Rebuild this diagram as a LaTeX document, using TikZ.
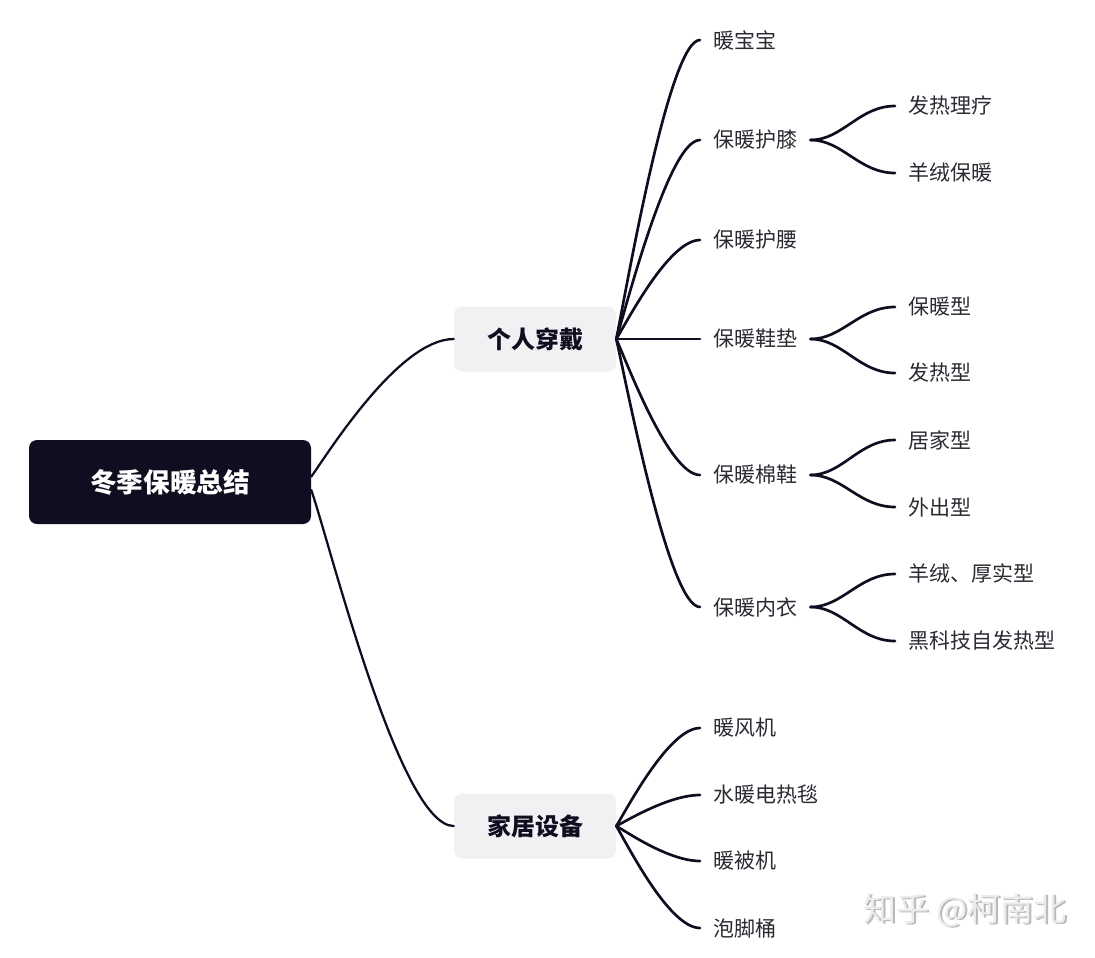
\documentclass[tikz,border=0pt]{standalone}
\usepackage{fontspec}
\setmainfont{Noto Sans CJK SC}
\usetikzlibrary{positioning}
\definecolor{ink}{RGB}{16,13,32}
\definecolor{boxgray}{RGB}{241,241,243}
\definecolor{leafink}{RGB}{42,42,50}
\tikzset{branch/.style={line width=2pt,ink}}

\begin{document}
\begin{tikzpicture}[x=0.75pt,y=-0.75pt,line join=round,line cap=round,
		rootbox/.style={fill=ink,rounded corners=6pt,minimum width=211.5pt,minimum height=63pt,
			text=white,font=\bfseries\fontsize{20}{24}\selectfont},
		topicbox/.style={fill=boxgray,rounded corners=6pt,minimum width=121.5pt,minimum height=48.75pt,
			text=ink,font=\bfseries\fontsize{18}{22}\selectfont},
		leaf/.style={anchor=west,inner xsep=9.75pt,text=leafink,font=\fontsize{15.75}{19}\selectfont}]
		\useasboundingbox (0,0) rectangle (1095,957);
		\node[rootbox]  (root) at (170,482) {冬季保暖总结};
		\node[topicbox] (wear) at (535,339) {个人穿戴};
		\node[topicbox] (home) at (535,826) {家居设备};
		\draw[branch,line width=1.7pt] ([yshift=4pt]root.east) .. controls +(19,-27) and +(-54,0) .. (wear.west);
		\draw[branch,line width=1.7pt] ([yshift=-6pt]root.east) .. controls +(19,55) and +(-54,0) .. (home.west);
		% first level leaves
		\foreach\name/\y/\txt in {nbb/40/暖宝宝,hx/140/保暖护膝,hy/240/保暖护腰,xd/339/保暖鞋垫,mx/475/保暖棉鞋,ny/607/保暖内衣}
		{
			\pgfmathsetmacro\dy{0.18*(\y-339)}
			\node[leaf] (\name) at (700,\y) {\txt};
			\draw[branch] (wear.east) .. controls +(11,\dy) and +(-31,0) .. (\name.west);
		}
		\foreach\name/\y/\txt in {nfj/728/暖风机,ddt/795/水暖电热毯,nbj/861/暖被机,jt/928/泡脚桶}
		{
			\pgfmathsetmacro\dy{0.18*(\y-826)}
			\node[leaf] (\name) at (700,\y) {\txt};
			\draw[branch] (home.east) .. controls +(11,\dy) and +(-31,0) .. (\name.west);
		}
		% second level leaves
		\foreach\from/\name/\y/\txt in {hx/flr/106/发热理疗,hx/yrb/173/羊绒保暖,xd/bnx/307/保暖型,xd/frx/373/发热型,
			mx/jjx/440/居家型,mx/wcx/507/外出型,ny/hsx/574/羊绒、厚实型,ny/hkj/641/黑科技自发热型}
		{
			\node[leaf] (\name) at (895,\y) {\txt};
			\draw[branch] (\from.east) .. controls +(32,0) and +(-36,0) .. (\name.west);
		}
		% watermark
		\node[text=gray!55,font=\fontsize{24.75}{28}\selectfont] (markshade) at (966.8,911.8) {知乎 @柯南北};
		\node[text=gray!15,font=\fontsize{24.75}{28}\selectfont] (mark) at (965,910) {知乎 @柯南北};
	\end{tikzpicture}
\end{document}
